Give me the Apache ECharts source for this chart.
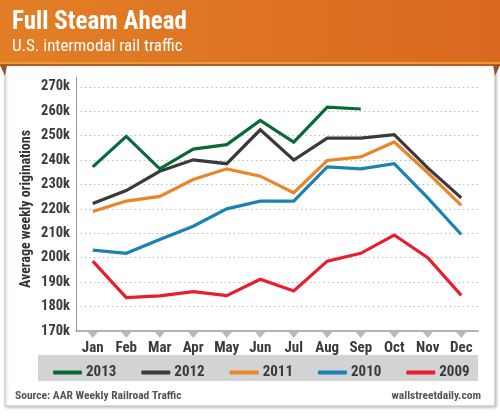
<!DOCTYPE html>
<html>
<head>
<meta charset="utf-8">
<script src="https://cdn.jsdelivr.net/npm/echarts@6/dist/echarts.min.js"></script>
<style>
html,body{margin:0;padding:0;background:#fff;}
#chart{width:500px;height:416px;}
</style>
</head>
<body>
<div id="chart"></div>
<script>
var months = ['Jan','Feb','Mar','Apr','May','Jun','Jul','Aug','Sep','Oct','Nov','Dec'];
var seriesNames = ['2013','2012','2011','2010','2009'];
var v2013 = [237.2, 249.7, 236.4, 244.5, 246.3, 256.2, 247.3, 261.7, 260.9, null, null, null];
var v2012 = [222.2, 227.5, 235.4, 240.1, 238.5, 252.4, 240.0, 249.0, 249.0, 250.4, 236.8, 224.5];
var v2011 = [218.9, 223.2, 225.1, 232.0, 236.4, 233.4, 226.6, 239.8, 241.3, 247.4, 234.8, 221.4];
var v2010 = [203.1, 201.8, 207.5, 212.9, 220.0, 223.2, 223.2, 237.2, 236.4, 238.5, 224.5, 209.5];
var v2009 = [198.6, 183.7, 184.4, 186.1, 184.5, 191.2, 186.4, 198.6, 201.8, 209.3, 200.0, 184.6];
var yTicks = [170,180,190,200,210,220,230,240,250,260,270];
var colors = ['#076B36','#3A3A3C','#E8862A','#1B82B4','#EA1D2C'];

var NARROW = "'Liberation Sans Narrow','Arial Narrow','Roboto Condensed','Liberation Sans',sans-serif";
var chart = echarts.init(document.getElementById('chart'), null, {renderer:'canvas'});
var allVals = [v2013, v2012, v2011, v2010, v2009];
var series = seriesNames.map(function(n,i){
  return {
    name:n, type:'line', data: allVals[i], symbol:'none', z: 10 - i,
    lineStyle:{width:3.2, color:colors[i], join:'miter'},
    itemStyle:{color:colors[i]}, connectNulls:false
  };
});
series.push({
  type:'scatter', name:'ticks', silent:true, clip:false,
  data: months.map(function(){ return yTicks[0]; }),
  symbol:'triangle', symbolRotate:180, symbolSize:[10,6], symbolOffset:[0,4],
  itemStyle:{color:'#A7A7A9'}, z:1
});

chart.setOption({
  animation:false,
  backgroundColor:'#ffffff',
  graphic:[
    {type:'rect', shape:{x:5,y:60,width:490,height:346}, style:{fill:'#fff', stroke:'#c8c8c8', lineWidth:1, shadowBlur:3, shadowColor:'rgba(0,0,0,0.25)', shadowOffsetX:1, shadowOffsetY:1}, z:-10},
    {type:'rect', shape:{x:0,y:0,width:500,height:63},
      style:{fill:new echarts.graphic.LinearGradient(0,0,1,0,[{offset:0,color:'#E27F26'},{offset:1,color:'#D9691F'}])}, z:-5},
    {type:'rect', shape:{x:0,y:62,width:500,height:2}, style:{fill:'#EE9A35'}, z:-4},
    {type:'rect', shape:{x:0,y:64,width:500,height:2}, style:{fill:'#B55A24'}, z:-4},
    {type:'polygon', shape:{points:[[0,65],[7,65],[5,76]]}, style:{fill:'#9A5229'}, z:-4},
    {type:'polygon', shape:{points:[[493,65],[500,65],[495,76]]}, style:{fill:'#9A5229'}, z:-4},
    {type:'text', left:12, top:10, style:{text:'Full Steam Ahead', fill:'#fff', font:'bold 25px '+NARROW}},
    {type:'text', left:12, top:38, style:{text:'U.S. intermodal rail traffic', fill:'#fff', font:'17px '+NARROW}},
    {type:'rect', shape:{x:38,y:355,width:440,height:26}, style:{fill:'#D3D3D5'}, z:-3},
    {type:'text', x:26, y:209, rotation:Math.PI/2, style:{text:'Average weekly originations', fill:'#333', font:'bold 14px '+NARROW, align:'center', verticalAlign:'middle'}},
    {type:'text', left:15, top:390, style:{text:'Source: AAR Weekly Railroad Traffic', fill:'#555', font:'bold 11.5px '+NARROW}},
    {type:'text', right:19, top:390, style:{text:'wallstreetdaily.com', fill:'#555', font:'bold 11.5px '+NARROW, align:'right'}}
  ],
  legend:{
    data:seriesNames, left:48, top:360, itemWidth:29, itemHeight:4, itemGap:25,
    icon:'roundRect',
    textStyle:{color:'#3a3a3a', fontSize:15, fontWeight:'bold', fontFamily:NARROW, padding:[0,0,0,-1]}
  },
  grid:{left:76, right:22, top:77, bottom:85, containLabel:false},
  xAxis:{
    type:'category', data:months, boundaryGap:true,
    axisLine:{lineStyle:{color:'#9a9a9a', width:1.5}},
    axisTick:{show:false},
    axisLabel:{color:'#3a3a3a', fontSize:15, fontWeight:'bold', fontFamily:NARROW, margin:10, interval:0},
    splitLine:{show:false}
  },
  yAxis:{
    type:'value', min:yTicks[0], max:274, interval:10,
    axisLine:{show:true, lineStyle:{color:'#9a9a9a', width:1}},
    axisTick:{show:false},
    axisLabel:{color:'#3a3a3a', fontSize:14.5, fontWeight:'bold', fontFamily:NARROW, margin:6,
      formatter:function(v){ return yTicks.indexOf(v) >= 0 ? v + 'k' : ''; }},
    splitLine:{show:true, showMinLine:false, showMaxLine:false, lineStyle:{color:'#bdbdbd', type:[1.5,3], width:1.2}}
  },
  series:series
});
</script>
</body>
</html>
